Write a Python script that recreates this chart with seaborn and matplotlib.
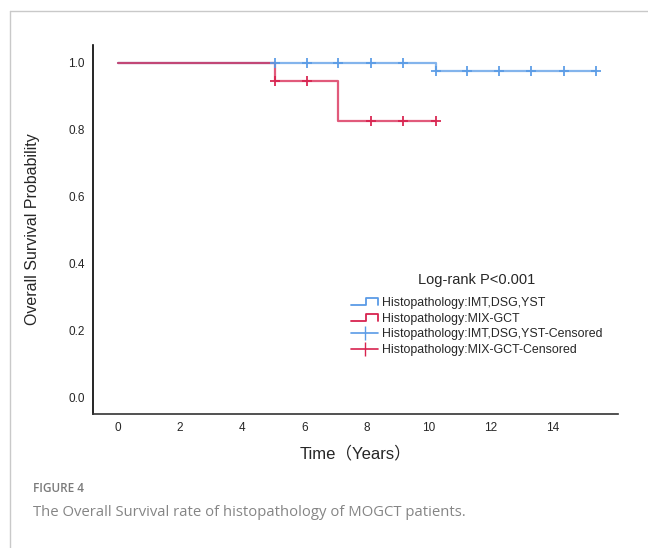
import matplotlib
matplotlib.use("Agg")
import matplotlib.pyplot as plt
import seaborn as sns
import pandas as pd
from matplotlib.lines import Line2D
from matplotlib.legend_handler import HandlerBase

# ---- data ----
blue_step_t = [0, 10.23, 15.4]
blue_step_s = [1.0, 0.975, 0.975]
red_step_t = [0, 5.06, 7.1, 10.23]
red_step_s = [1.0, 0.945, 0.825, 0.825]
blue_cens_t = [5.06, 6.1, 7.1, 8.15, 9.17, 10.23, 11.23, 12.26, 13.3, 14.35, 15.4]
blue_cens_s = [1.0, 1.0, 1.0, 1.0, 1.0, 0.975, 0.975, 0.975, 0.975, 0.975, 0.975]
red_cens_t = [5.06, 6.1, 8.15, 9.17, 10.23]
red_cens_s = [0.945, 0.945, 0.825, 0.825, 0.825]
groups = ["Histopathology:IMT,DSG,YST", "Histopathology:MIX-GCT"]
x_ticks = [0, 2, 4, 6, 8, 10, 12, 14]
y_ticks = [0.0, 0.2, 0.4, 0.6, 0.8, 1.0]

BLUE = "#5a9be6"
RED = "#d8234f"

sns.set_style("white")
plt.rcParams["font.family"] = ["Liberation Sans", "Noto Sans CJK SC", "DejaVu Sans"]

steps = pd.concat([
    pd.DataFrame({"t": blue_step_t, "s": blue_step_s, "g": groups[0]}),
    pd.DataFrame({"t": red_step_t, "s": red_step_s, "g": groups[1]}),
])
cens = pd.concat([
    pd.DataFrame({"t": blue_cens_t, "s": blue_cens_s, "g": groups[0]}),
    pd.DataFrame({"t": red_cens_t, "s": red_cens_s, "g": groups[1]}),
])
pal = {groups[0]: BLUE, groups[1]: RED}

fig = plt.figure(figsize=(6.48, 5.48), dpi=100)
ax = fig.add_axes([0.1435, 0.2445, 0.954 - 0.1435, 0.918 - 0.2445])

sns.lineplot(data=steps, x="t", y="s", hue="g", palette=pal, drawstyle="steps-post",
             estimator=None, sort=False, linewidth=1.6, alpha=0.75, legend=False, ax=ax)
for g in [groups[0], groups[1]]:
    sub = cens[cens.g == g]
    ax.scatter(sub.t, sub.s, marker="+", s=60, color=pal[g], linewidths=1.4, zorder=3, alpha=0.9)

ax.set_xlim(-0.8, 16.1)
ax.set_ylim(-0.05, 1.054)
ax.set_xticks(x_ticks)
ax.set_yticks(y_ticks)
ax.set_xticklabels([str(v) for v in x_ticks], fontsize=8.5)
ax.set_yticklabels([f"{v:.1f}" for v in y_ticks], fontsize=8.5)
ax.tick_params(axis="x", length=0, pad=6)
ax.tick_params(axis="y", length=0, pad=6)
for sp in ["top", "right"]:
    ax.spines[sp].set_visible(False)
ax.spines["left"].set_color("black")
ax.spines["left"].set_linewidth(1.2)
ax.spines["bottom"].set_color("#333333")
ax.spines["bottom"].set_linewidth(1.2)
ax.set_xlabel("Time（Years）", fontsize=12, labelpad=8)
ax.set_ylabel("Overall Survival Probability", fontsize=11.5, labelpad=20)


class StepHandler(HandlerBase):
    def __init__(self, color):
        super().__init__()
        self.color = color

    def create_artists(self, legend, orig_handle, xdescent, ydescent, width, height, fontsize, trans):
        x0, x1 = -xdescent, -xdescent + width
        y0, y1 = -ydescent + 0.1 * height, -ydescent + 0.9 * height
        xm = x0 + 0.55 * width
        xs = [x0, xm, xm, x1, x1]
        ys = [y0, y0, y1, y1, y0]
        ln = Line2D(xs, ys, color=self.color, lw=1.3, transform=trans)
        return [ln]


h1 = Line2D([], [], color=BLUE)
h2 = Line2D([], [], color=RED)
h3 = Line2D([], [], color=BLUE, marker="|", markersize=10, lw=1.2)
h4 = Line2D([], [], color=RED, marker="|", markersize=10, lw=1.2)
leg = ax.legend([h1, h2, h3, h4],
                [groups[0], groups[1], groups[0] + "-Censored", groups[1] + "-Censored"],
                handler_map={h1: StepHandler(BLUE), h2: StepHandler(RED)},
                title="Log-rank P<0.001", frameon=False, fontsize=8.9,
                title_fontsize=10.5, loc="upper left", bbox_to_anchor=(0.475, 0.405),
                handlelength=2.2, handletextpad=0.3, labelspacing=0.3, borderpad=0.2)
leg._legend_box.align = "center"
leg._legend_box.sep = 7

# frame lines
fig.add_artist(Line2D([9.5 / 648, 9.5 / 648], [0, 1 - 11 / 548], color="#c9c9c9", lw=1))
fig.add_artist(Line2D([9.5 / 648, 1], [1 - 11 / 548, 1 - 11 / 548], color="#c9c9c9", lw=1))

fig.text(33 / 648, 1 - 488 / 548, "FIGURE 4", fontsize=8.5, color="#7a7a7a",
         family=["Open Sans", "DejaVu Sans"], fontweight="semibold", va="center")
fig.text(33 / 648, 1 - 512 / 548, "The Overall Survival rate of histopathology of MOGCT patients.",
         fontsize=10.7, color="#858585", family=["Open Sans", "DejaVu Sans"], va="center")

fig.savefig("out.png", dpi=100)
